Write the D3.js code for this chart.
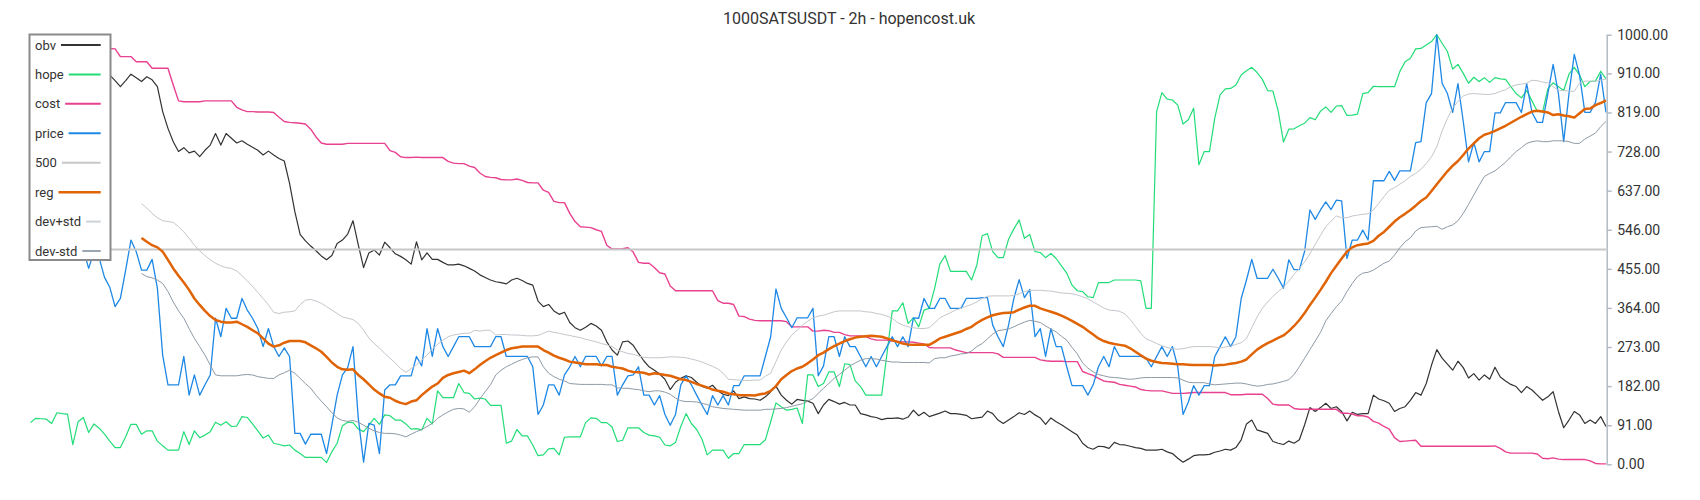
<!DOCTYPE html>
<html>
<head>
<meta charset="utf-8">
<script src="https://cdnjs.cloudflare.com/ajax/libs/d3/7.8.5/d3.min.js"></script>
<style>
	body { margin: 0; background: #fff; }
	svg { display: block; font-family: Roboto, "Noto Sans", sans-serif; }
</style>
</head>
<body>
<div id="chart"></div>
<script>
const title = "1000SATSUSDT - 2h - hopencost.uk";
const yTicks = [0, 91, 182, 273, 364, 455, 546, 637, 728, 819, 910, 1000];
const level = 500;
// reg / dev lines start later than the rest
const bandStart = 21;

const price = [
	560, 540, 575, 520, 545, 500, 530, 490, 515, 485,
	500, 456, 495, 480, 435, 412, 367, 386, 452, 522,
	495, 452, 452, 477, 410, 254, 185, 185, 185, 251,
	161, 208, 161, 185, 208, 340, 297, 363, 340, 340,
	386, 359, 340, 316, 274, 316, 274, 251, 271, 251,
	72, 72, 47, 70, 70, 70, 25, 91, 161, 208,
	225, 274, 107, 5, 95, 91, 25, 173, 185, 185,
	206, 206, 206, 251, 229, 316, 251, 316, 274, 251,
	274, 297, 297, 297, 274, 274, 274, 274, 297, 297,
	251, 251, 251, 251, 251, 227, 116, 138, 185, 185,
	161, 208, 227, 251, 227, 251, 251, 251, 229, 251,
	251, 161, 185, 206, 208, 227, 161, 161, 138, 160,
	116, 91, 116, 185, 206, 185, 161, 138, 116, 160,
	138, 160, 138, 183, 183, 206, 206, 206, 206, 251,
	297, 408, 363, 341, 318, 341, 341, 341, 363, 206,
	229, 297, 297, 251, 297, 274, 274, 251, 227, 251,
	227, 251, 274, 297, 274, 297, 274, 341, 340, 386,
	363, 363, 386, 386, 363, 363, 363, 386, 386, 386,
	388, 388, 324, 297, 274, 324, 386, 430, 388, 407,
	297, 316, 251, 316, 274, 274, 227, 183, 183, 183,
	161, 185, 227, 251, 227, 274, 251, 251, 251, 251,
	251, 247, 227, 251, 274, 251, 274, 227, 116, 145,
	183, 161, 183, 183, 251, 274, 297, 274, 297, 386,
	429, 477, 433, 433, 433, 454, 433, 410, 476, 453,
	453, 496, 592, 570, 592, 611, 593, 615, 613, 479,
	522, 522, 545, 522, 660, 660, 660, 682, 661, 683,
	683, 683, 749, 751, 842, 863, 1000, 887, 863, 819,
	886, 798, 704, 749, 704, 728, 728, 818, 818, 842,
	842, 842, 819, 886, 819, 796, 796, 863, 931, 863,
	751, 863, 954, 906, 819, 819, 842, 908, 819
];

const cost = [
	1000, 1000, 995, 990, 990, 985, 985, 980, 980, 975,
	975, 972, 970, 970, 968, 968, 967, 949, 949, 949,
	937, 937, 937, 922, 922, 922, 922, 883, 846, 844,
	844, 844, 844, 846, 846, 846, 846, 846, 846, 831,
	825, 821, 821, 820, 820, 820, 819, 808, 798, 796,
	795, 794, 792, 780, 762, 748, 745, 745, 745, 745,
	747, 747, 747, 747, 747, 747, 747, 747, 730, 726,
	716, 714, 714, 715, 714, 714, 714, 714, 714, 705,
	701, 700, 700, 694, 691, 678, 670, 668, 667, 663,
	662, 662, 664, 661, 656, 655, 655, 638, 633, 612,
	609, 609, 584, 565, 553, 552, 551, 546, 542, 510,
	501, 501, 502, 504, 494, 470, 468, 468, 458, 446,
	443, 415, 404, 404, 404, 404, 404, 404, 404, 404,
	381, 375, 375, 372, 345, 344, 338, 335, 334, 334,
	334, 334, 334, 332, 320, 320, 320, 320, 310, 310,
	312, 311, 307, 307, 302, 299, 299, 299, 297, 292,
	289, 289, 289, 287, 286, 285, 285, 284, 282, 280,
	272, 271, 271, 271, 271, 266, 263, 260, 260, 260,
	260, 260, 260, 257, 249, 249, 249, 249, 249, 249,
	249, 243, 241, 240, 240, 240, 239, 239, 239, 216,
	211, 207, 200, 194, 192, 191, 186, 184, 182, 180,
	174, 172, 171, 171, 171, 168, 165, 165, 165, 166,
	167, 167, 167, 167, 167, 167, 167, 162, 162, 162,
	163, 163, 163, 163, 153, 140, 138, 138, 138, 130,
	128, 128, 128, 128, 128, 128, 128, 128, 119, 119,
	117, 113, 113, 110, 100, 96, 88, 82, 62, 53,
	54, 55, 56, 42, 42, 42, 42, 42, 42, 42,
	42, 42, 42, 42, 42, 42, 42, 43, 37, 29,
	26, 26, 26, 26, 26, 24, 14, 13, 15, 12,
	11, 11, 11, 11, 11, 8, 2, 1, 1
];

const obv = [
	950, 946, 955, 942, 932, 936, 926, 930, 921, 916,
	924, 912, 916, 908, 903, 906, 893, 879, 893, 908,
	900, 891, 902, 895, 879, 821, 782, 751, 728, 737,
	725, 729, 716, 731, 743, 770, 743, 770, 759, 748,
	753, 745, 738, 731, 720, 729, 720, 712, 706, 654,
	588, 535, 520, 508, 497, 485, 476, 486, 514, 522,
	536, 567, 511, 458, 492, 499, 487, 517, 504, 490,
	484, 476, 466, 518, 476, 492, 477, 477, 470, 464,
	464, 466, 462, 456, 450, 441, 435, 429, 425, 423,
	420, 429, 433, 428, 421, 417, 380, 367, 372, 357,
	349, 354, 330, 318, 312, 319, 328, 322, 312, 285,
	266, 254, 285, 287, 277, 258, 241, 227, 219, 210,
	198, 174, 191, 200, 206, 202, 191, 181, 177, 184,
	171, 163, 160, 171, 153, 157, 153, 152, 149, 157,
	169, 182, 161, 149, 140, 151, 149, 147, 142, 118,
	138, 151, 146, 140, 144, 138, 138, 118, 115, 111,
	109, 104, 107, 107, 108, 105, 110, 126, 113, 121,
	111, 115, 119, 124, 118, 118, 116, 114, 106, 108,
	110, 124, 118, 103, 95, 103, 111, 120, 116, 124,
	115, 108, 93, 108, 99, 92, 84, 76, 68, 49,
	39, 35, 42, 41, 37, 51, 46, 45, 42, 39,
	37, 33, 33, 33, 35, 29, 25, 14, 5, 12,
	20, 22, 22, 23, 28, 31, 35, 33, 39, 57,
	94, 103, 80, 76, 72, 53, 49, 46, 54, 49,
	57, 92, 132, 123, 132, 142, 130, 134, 123, 101,
	121, 116, 118, 118, 161, 152, 148, 142, 123, 130,
	134, 149, 167, 161, 188, 231, 267, 247, 233, 219,
	240, 225, 201, 211, 196, 208, 198, 226, 203, 194,
	186, 181, 167, 181, 173, 161, 149, 157, 169, 123,
	85, 103, 123, 115, 95, 103, 95, 111, 88
];

const hope = [
	97, 107, 106, 105, 95, 120, 118, 117, 46, 99,
	109, 74, 94, 84, 70, 54, 39, 39, 64, 93,
	93, 70, 78, 78, 54, 43, 33, 33, 33, 76,
	46, 78, 62, 68, 76, 98, 91, 99, 88, 89,
	111, 109, 94, 78, 61, 68, 49, 46, 43, 45,
	33, 25, 16, 16, 16, 16, 4, 29, 49, 90,
	98, 97, 82, 76, 91, 107, 93, 115, 113, 103,
	103, 94, 82, 83, 80, 107, 94, 171, 155, 155,
	155, 188, 167, 165, 152, 154, 152, 137, 137, 137,
	49, 54, 81, 66, 66, 45, 20, 22, 36, 37,
	22, 63, 64, 64, 64, 97, 108, 107, 97, 97,
	87, 53, 56, 85, 85, 85, 74, 68, 66, 63,
	45, 43, 51, 88, 118, 95, 81, 59, 22, 33,
	33, 33, 14, 25, 25, 46, 46, 46, 46, 57,
	99, 143, 134, 126, 128, 131, 95, 208, 208, 181,
	188, 215, 215, 181, 234, 232, 194, 181, 161, 161,
	161, 161, 258, 357, 357, 376, 328, 341, 320, 359,
	363, 409, 466, 486, 449, 449, 449, 449, 429, 464,
	532, 537, 495, 481, 481, 524, 548, 569, 526, 535,
	495, 493, 481, 491, 479, 462, 445, 417, 404, 402,
	390, 388, 423, 423, 423, 429, 429, 429, 429, 429,
	427, 363, 363, 821, 865, 850, 848, 836, 792, 802,
	829, 697, 728, 728, 806, 860, 874, 875, 883, 906,
	916, 924, 912, 896, 870, 869, 822, 750, 780, 781,
	788, 794, 807, 802, 822, 832, 819, 834, 835, 812,
	813, 815, 863, 865, 880, 879, 879, 879, 879, 914,
	937, 945, 967, 968, 976, 984, 1000, 980, 961, 920,
	931, 910, 887, 901, 891, 900, 889, 900, 897, 896,
	879, 863, 853, 870, 846, 822, 820, 874, 888, 879,
	870, 908, 924, 906, 879, 891, 892, 915, 897
];

const reg = [
	527, 518, 510, 505, 495, 476, 456, 439, 423, 406,
	386, 371, 357, 345, 336, 332, 330, 330, 332, 326,
	320, 312, 305, 293, 281, 274, 277, 283, 287, 287,
	287, 284, 277, 270, 262, 250, 237, 227, 221, 220,
	221, 208, 198, 186, 174, 165, 157, 155, 148, 143,
	140, 146, 149, 161, 171, 181, 188, 201, 208, 212,
	215, 218, 212, 221, 231, 240, 248, 254, 260, 266,
	270, 272, 274, 274, 274, 274, 266, 260, 253, 248,
	244, 239, 237, 235, 233, 233, 233, 231, 231, 227,
	225, 223, 218, 215, 214, 213, 209, 212, 210, 208,
	206, 202, 198, 196, 192, 187, 183, 179, 174, 171,
	169, 165, 163, 161, 161, 161, 160, 163, 165, 171,
	182, 198, 208, 217, 223, 227, 235, 244, 254, 260,
	268, 275, 281, 287, 291, 295, 297, 298, 299, 298,
	297, 293, 289, 285, 281, 279, 278, 278, 278, 278,
	285, 293, 297, 301, 305, 309, 315, 320, 329, 336,
	342, 347, 350, 352, 353, 354, 360, 365, 369, 369,
	363, 359, 355, 351, 346, 340, 334, 327, 320, 311,
	302, 293, 287, 283, 280, 278, 276, 270, 262, 254,
	246, 241, 238, 236, 235, 234, 233, 233, 232, 231,
	231, 231, 231, 230, 231, 232, 234, 236, 239, 244,
	256, 267, 275, 282, 288, 294, 300, 310, 322, 336,
	352, 371, 388, 406, 425, 445, 462, 479, 495, 505,
	510, 512, 514, 520, 532, 541, 553, 565, 575, 583,
	592, 602, 613, 621, 636, 652, 667, 682, 695, 706,
	720, 735, 747, 759, 767, 771, 776, 782, 788, 795,
	802, 809, 815, 821, 823, 821, 819, 813, 815, 812,
	810, 807, 817, 827, 828, 836, 841, 847
];

const devUp = [
	607, 596, 584, 574, 567, 565, 563, 553, 541, 526,
	510, 497, 486, 476, 468, 462, 458, 456, 450, 439,
	427, 414, 400, 386, 371, 354, 351, 354, 355, 357,
	372, 382, 384, 380, 375, 367, 359, 351, 343, 340,
	337, 328, 312, 294, 281, 271, 258, 247, 236, 223,
	214, 223, 231, 243, 254, 268, 279, 289, 297, 301,
	303, 305, 305, 312, 310, 312, 312, 301, 302, 302,
	301, 301, 300, 299, 299, 300, 305, 310, 307, 305,
	302, 300, 297, 295, 291, 288, 285, 281, 278, 274,
	266, 262, 258, 256, 252, 249, 248, 248, 248, 249,
	250, 250, 249, 248, 245, 242, 238, 233, 228, 222,
	212, 198, 197, 196, 195, 195, 196, 196, 205, 212,
	239, 266, 285, 301, 312, 324, 333, 341, 345, 347,
	351, 355, 357, 357, 357, 357, 357, 355, 354, 351,
	349, 345, 340, 330, 324, 320, 318, 316, 316, 318,
	329, 341, 347, 353, 359, 363, 368, 372, 378, 386,
	391, 392, 392, 392, 392, 393, 397, 402, 405, 405,
	405, 404, 403, 401, 399, 398, 397, 394, 390, 385,
	378, 371, 364, 359, 358, 356, 350, 337, 321, 305,
	292, 287, 281, 276, 272, 269, 268, 269, 272, 274,
	274, 274, 274, 273, 271, 273, 275, 279, 283, 293,
	318, 343, 363, 378, 391, 402, 412, 426, 442, 456,
	471, 490, 512, 533, 553, 566, 578, 574, 574, 578,
	580, 582, 583, 592, 607, 623, 638, 644, 652, 660,
	670, 677, 687, 700, 716, 739, 776, 805, 829, 845,
	857, 862, 863, 862, 861, 861, 863, 868, 872, 879,
	883, 885, 887, 894, 893, 890, 888, 879, 870, 870,
	869, 868, 887, 892, 892, 892, 894, 897
];

const devDown = [
	444, 437, 434, 429, 421, 402, 378, 357, 340, 316,
	293, 274, 254, 231, 208, 206, 206, 206, 206, 208,
	209, 208, 204, 202, 200, 200, 208, 213, 219, 212,
	200, 188, 177, 161, 147, 134, 120, 108, 102, 100,
	102, 98, 91, 84, 78, 74, 72, 72, 71, 68,
	64, 70, 76, 81, 88, 95, 107, 115, 122, 128,
	130, 129, 121, 134, 152, 169, 185, 208, 219, 227,
	233, 239, 244, 248, 250, 250, 227, 212, 204, 198,
	194, 188, 187, 186, 186, 186, 186, 186, 185, 185,
	178, 177, 177, 175, 174, 171, 169, 171, 171, 168,
	163, 154, 148, 146, 146, 145, 142, 139, 134, 132,
	130, 129, 128, 127, 126, 126, 126, 126, 128, 128,
	129, 130, 132, 135, 138, 141, 147, 153, 165, 177,
	188, 200, 209, 219, 229, 236, 242, 246, 246, 245,
	242, 240, 238, 238, 237, 237, 237, 237, 237, 236,
	246, 248, 248, 252, 254, 257, 258, 264, 274, 281,
	292, 303, 311, 313, 315, 320, 326, 331, 335, 333,
	330, 322, 315, 308, 298, 289, 272, 257, 236, 224,
	215, 209, 206, 203, 202, 201, 199, 198, 199, 201,
	202, 202, 202, 202, 202, 202, 201, 196, 191, 190,
	190, 190, 187, 185, 186, 187, 188, 189, 189, 187,
	184, 182, 183, 186, 187, 190, 193, 197, 209, 227,
	247, 267, 287, 307, 334, 351, 367, 380, 402, 421,
	437, 445, 447, 452, 460, 468, 473, 487, 504, 518,
	527, 543, 551, 552, 553, 554, 547, 553, 557, 567,
	584, 605, 627, 649, 670, 677, 683, 693, 703, 716,
	728, 737, 747, 751, 753, 751, 751, 753, 753, 753,
	751, 747, 747, 757, 764, 771, 786, 798
];

const legendNames = ["obv", "hope", "cost", "price", "500", "reg", "dev+std", "dev-std"];
const legendColors = ["#333333", "#22dd77", "#e8418f", "#1e88e5", "#c8c8c8", "#e06305", "#cdd2d7", "#9aa5b0"];

function drawChart(node) {
	var width = 1700, height = 500;

	var svg = d3.select(node)
		.append("svg")
		.attr("width", width)
		.attr("height", height)

	var x = d3.scaleLinear()
		.domain([0, price.length - 1])
		.range([30.5, 1606]);

	var y = d3.scaleLinear()
		.domain([0, 1000])
		.range([464.3, 34.7]);

	var line = d3.line()
		.x(function (d) { return x(d[0]) })
		.y(function (d) { return y(d[1]) });

	// pair each value with its bar index
	function pts(values, start) {
		return values.map(function (v, i) { return [i + (start || 0), v] });
	}

	var series = [
		{ data: pts(obv), color: legendColors[0], w: 1.2 },
		{ data: pts(hope), color: legendColors[1], w: 1.2 },
		{ data: pts(cost), color: legendColors[2], w: 1.4 },
		{ data: pts(price), color: legendColors[3], w: 1.3 },
		{ data: [[0, level], [price.length - 1, level]], color: legendColors[4], w: 2 },
		{ data: pts(reg, bandStart), color: legendColors[5], w: 2.5 },
		{ data: pts(devUp, bandStart), color: "#c2c7cc", w: 1 },
		{ data: pts(devDown, bandStart), color: "#8e9aa6", w: 1 }
	];

	svg.append("g")
		.selectAll("path")
		.data(series)
		.enter()
		.append("path")
		.attr("fill", "none")
		.attr("stroke", function (d) { return d.color })
		.attr("stroke-width", function (d) { return d.w })
		.attr("stroke-linejoin", "round")
		.attr("d", function (d) { return line(d.data) });

	var axis = svg.append("g")
		.attr("transform", "translate(1606.7,0)")
		.call(d3.axisRight(y)
			.tickValues(yTicks)
			.tickFormat(d3.format(".2f"))
			.tickSize(5)
			.tickSizeOuter(0)
			.tickPadding(5.5));

	axis.select(".domain").attr("stroke", "#b3bcc5").attr("stroke-width", 1.5);
	axis.selectAll(".tick line").attr("stroke", "#b3bcc5").attr("stroke-width", 1.5);
	axis.selectAll(".tick text")
		.attr("fill", "#333")
		.style("font-size", "14px")
		.style("font-family", "Roboto, sans-serif");

	svg.append("text")
		.attr("x", 849)
		.attr("y", 20)
		.attr("text-anchor", "middle")
		.attr("dominant-baseline", "middle")
		.attr("fill", "#333")
		.style("font-size", "16px")
		.text(title);

	var legend = svg.append("g");

	legend.append("rect")
		.attr("x", 29.5)
		.attr("y", 34.5)
		.attr("width", 81)
		.attr("height", 225.5)
		.attr("fill", "#fff")
		.attr("stroke", "#8a8a8a")
		.attr("stroke-width", 2);

	var item = legend.selectAll(".item")
		.data(legendNames)
		.enter()
		.append("g")
		.attr("class", "item")
		.attr("transform", function (d, i) { return "translate(0," + (45 + i * 29.43) + ")" });

	item.append("text")
		.attr("x", 35)
		.attr("dy", "0.35em")
		.attr("fill", "#333")
		.style("font-size", "13px")
		.text(function (d) { return d });

	item.append("line")
		.attr("x1", function () {
			var t = d3.select(this.parentNode).select("text").node();
			return 35 + t.getComputedTextLength() + 5;
		})
		.attr("x2", 100.7)
		.attr("stroke", function (d, i) { return legendColors[i] })
		.attr("stroke-width", function (d, i) { return i == 5 ? 2.5 : 2 });
}

drawChart(document.getElementById("chart"));
</script>
</body>
</html>
